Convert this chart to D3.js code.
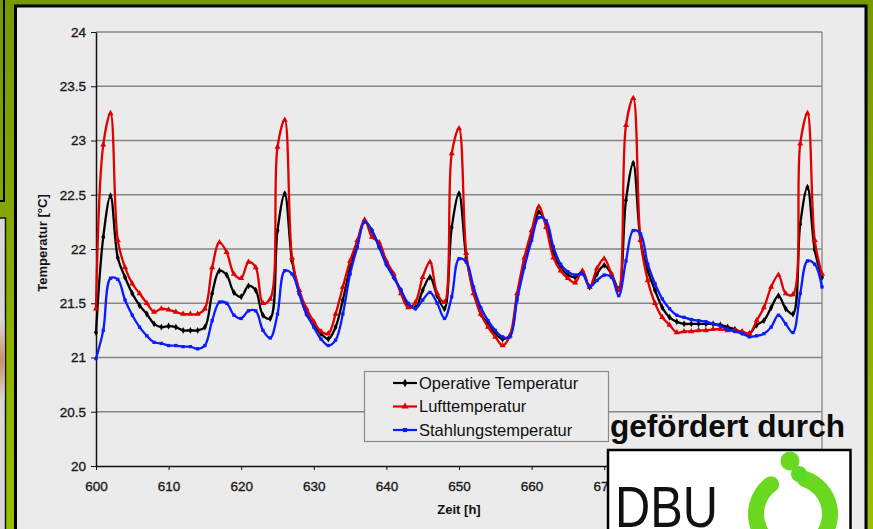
<!DOCTYPE html>
<html><head><meta charset="utf-8">
<script src="https://cdn.jsdelivr.net/npm/d3@7"></script>
<style>html,body{margin:0;padding:0;background:#7d9c00;overflow:hidden}svg{display:block;font-family:Arial,"Liberation Sans",sans-serif}</style>
</head><body><svg id="c" width="873" height="529"></svg>
<script>
// ---- data ----
const hours = d3.range(600, 701);
const xTicks = [600, 610, 620, 630, 640, 650, 660, 670, 680, 690, 700];
const yTicks = [20, 20.5, 21, 21.5, 22, 22.5, 23, 23.5, 24];
const seriesNames = ["Operative Temperatur", "Lufttemperatur", "Stahlungstemperatur"];
const operativeTemp = [
 21.23,22.11,22.49,21.92,21.74,21.59,21.48,21.40,21.31,21.28,
 21.29,21.28,21.25,21.25,21.25,21.28,21.59,21.80,21.76,21.60,
 21.56,21.66,21.62,21.39,21.36,22.17,22.51,21.89,21.59,21.40,
 21.30,21.22,21.17,21.28,21.53,21.83,22.05,22.26,22.17,22.02,
 21.86,21.74,21.62,21.48,21.46,21.62,21.74,21.57,21.45,22.20,
 22.51,21.92,21.62,21.40,21.31,21.22,21.17,21.20,21.56,21.89,
 22.11,22.34,22.23,21.96,21.83,21.76,21.74,21.79,21.65,21.77,
 21.85,21.77,21.63,22.45,22.79,22.08,21.80,21.62,21.46,21.37,
 21.33,21.31,21.31,21.31,21.31,21.31,21.30,21.28,21.26,21.23,
 21.22,21.30,21.34,21.46,21.57,21.45,21.40,22.23,22.57,21.99,
 21.74];
const luftTemp = [
 21.45,22.96,23.25,22.08,21.83,21.68,21.59,21.50,21.42,21.45,
 21.44,21.42,21.40,21.40,21.40,21.45,21.83,22.06,21.97,21.77,
 21.73,21.88,21.83,21.50,21.54,22.94,23.19,21.92,21.62,21.45,
 21.33,21.24,21.22,21.40,21.65,21.89,22.08,22.27,22.11,22.06,
 21.89,21.77,21.59,21.46,21.51,21.74,21.88,21.59,21.51,22.88,
 23.11,21.96,21.59,21.40,21.28,21.19,21.11,21.20,21.59,21.92,
 22.17,22.39,22.20,21.92,21.80,21.73,21.69,21.80,21.65,21.82,
 21.91,21.77,21.62,23.14,23.39,22.08,21.71,21.50,21.37,21.30,
 21.23,21.24,21.24,21.25,21.25,21.26,21.26,21.25,21.25,21.24,
 21.22,21.34,21.46,21.65,21.76,21.59,21.58,22.97,23.25,22.08,
 21.77];
const strahlTemp = [
 20.99,21.25,21.73,21.72,21.53,21.39,21.28,21.20,21.14,21.13,
 21.11,21.11,21.10,21.10,21.08,21.11,21.34,21.51,21.50,21.39,
 21.36,21.43,21.43,21.25,21.18,21.40,21.80,21.77,21.59,21.40,
 21.28,21.17,21.11,21.16,21.40,21.77,22.02,22.25,22.17,22.02,
 21.86,21.74,21.62,21.50,21.45,21.53,21.60,21.50,21.36,21.56,
 21.91,21.88,21.65,21.46,21.34,21.25,21.19,21.19,21.53,21.83,
 22.08,22.29,22.26,22.02,21.86,21.79,21.76,21.77,21.65,21.71,
 21.76,21.74,21.57,21.89,22.17,22.14,21.86,21.68,21.54,21.45,
 21.39,21.37,21.35,21.34,21.33,21.31,21.29,21.26,21.24,21.22,
 21.19,21.20,21.22,21.28,21.39,21.31,21.23,21.59,21.89,21.86,
 21.65];

// ---- styles ----
const colors = ["#000000", "#e00000", "#0a1cff"];
const symbols = [d3.symbolDiamond, d3.symbolTriangle, d3.symbolSquare];
const symSizes = [14, 16, 11];

const svg = d3.select("#c");
const defs = svg.append("defs");
const bg = defs.append("linearGradient").attr("id", "bg").attr("x1", 0).attr("y1", 0).attr("x2", 0).attr("y2", 1);
bg.append("stop").attr("offset", 0).attr("stop-color", "#789800");
bg.append("stop").attr("offset", 1).attr("stop-color", "#98c000");
const lg = defs.append("linearGradient").attr("id", "logo").attr("gradientUnits", "userSpaceOnUse")
  .attr("x1", 0).attr("y1", 450).attr("x2", 0).attr("y2", 529);
lg.append("stop").attr("offset", 0).attr("stop-color", "#6ad81e");
lg.append("stop").attr("offset", 0.35).attr("stop-color", "#40e02c");
lg.append("stop").attr("offset", 1).attr("stop-color", "#22f040");
const tint = defs.append("linearGradient").attr("id", "tint").attr("x1", 0).attr("y1", 0).attr("x2", 0).attr("y2", 1);
tint.append("stop").attr("offset", 0).attr("stop-color", "#d8d8d8");
tint.append("stop").attr("offset", 0.5).attr("stop-color", "#c9906a");
tint.append("stop").attr("offset", 1).attr("stop-color", "#d8d8d8");

// background
svg.append("rect").attr("width", 873).attr("height", 529).attr("fill", "url(#bg)");
// left fragments of other slides
svg.append("path").attr("d", "M4,0 V201 H0").attr("fill", "none").attr("stroke", "#000").attr("stroke-width", 2);
svg.append("rect").attr("x", -2).attr("y", 218).attr("width", 7.5).attr("height", 330)
  .attr("fill", "#d8d8d8").attr("stroke", "#111").attr("stroke-width", 1.5);
svg.append("rect").attr("x", 0).attr("y", 320).attr("width", 4.5).attr("height", 80).attr("fill", "url(#tint)");

// main panel
svg.append("rect").attr("x", 15.5).attr("y", 6).attr("width", 850.5).attr("height", 560)
  .attr("fill", "#ebebeb").attr("stroke", "#000").attr("stroke-width", 3);

// ---- chart ----
const x = d3.scaleLinear().domain([600, 700]).range([96, 822]);
const y = d3.scaleLinear().domain([20, 24]).range([466, 32]);

const g = svg.append("g");
// gridlines
g.selectAll("line.grid").data(yTicks.filter(d => d > 20)).join("line")
  .attr("x1", x(600)).attr("x2", x(700)).attr("y1", d => y(d)).attr("y2", d => y(d))
  .attr("stroke", "#858585").attr("stroke-width", 1.3);
g.append("line").attr("x1", x(700)).attr("x2", x(700)).attr("y1", y(24)).attr("y2", y(20))
  .attr("stroke", "#858585").attr("stroke-width", 1.3);

const yAxis = g.append("g").attr("transform", `translate(${x(600)},0)`)
  .call(d3.axisLeft(y).tickValues(yTicks).tickSize(5).tickSizeOuter(0).tickPadding(5).tickFormat(d => String(d)));
const xAxis = g.append("g").attr("transform", `translate(0,${y(20)})`)
  .call(d3.axisBottom(x).tickValues(xTicks).tickSize(4).tickSizeOuter(0).tickPadding(11).tickFormat(d => String(d)));
[yAxis, xAxis].forEach(a => {
  a.selectAll("path.domain").attr("stroke", "#111").attr("stroke-width", 1.5);
  a.selectAll(".tick line").attr("stroke", "#111");
  a.selectAll(".tick text").attr("font-size", 13.5).attr("fill", "#1a1a1a")
    .attr("stroke", "#1a1a1a").attr("stroke-width", 0.35)
    .attr("font-family", "Arial, 'Liberation Sans', sans-serif");
});

g.append("text").attr("transform", "translate(47,243) rotate(-90)").attr("text-anchor", "middle")
  .attr("font-size", 13).attr("font-weight", "bold").attr("fill", "#111").text("Temperatur [°C]");
g.append("text").attr("x", 459).attr("y", 514).attr("text-anchor", "middle")
  .attr("font-size", 13).attr("font-weight", "bold").attr("fill", "#111").text("Zeit [h]");

// series
const allSeries = [operativeTemp, luftTemp, strahlTemp];
const line = d3.line().x((d, i) => x(hours[i])).y(d => y(d)).curve(d3.curveCatmullRom.alpha(0.5));
allSeries.forEach((vals, si) => {
  const sg = g.append("g");
  sg.append("path").attr("d", line(vals)).attr("fill", "none").attr("stroke", colors[si]).attr("stroke-width", 2.3)
    .attr("stroke-linejoin", "round");
  sg.selectAll("path.m").data(vals).join("path").attr("class", "m")
    .attr("d", d3.symbol().type(symbols[si]).size(symSizes[si]))
    .attr("transform", (d, i) => `translate(${x(hours[i])},${y(d)})`)
    .attr("fill", colors[si]);
});

// legend
const leg = svg.append("g");
leg.append("rect").attr("x", 364.5).attr("y", 371.5).attr("width", 244).attr("height", 70)
  .attr("fill", "#ebebeb").attr("stroke", "#8a8a8a").attr("stroke-width", 1.2);
seriesNames.forEach((n, i) => {
  const ly = 383 + i * 23.5;
  leg.append("line").attr("x1", 393).attr("x2", 417).attr("y1", ly).attr("y2", ly).attr("stroke", colors[i]).attr("stroke-width", 2.2);
  leg.append("path").attr("d", d3.symbol().type(symbols[i]).size(symSizes[i] + 6)).attr("transform", `translate(405,${ly})`).attr("fill", colors[i]);
  leg.append("text").attr("x", 419).attr("y", ly).attr("dy", "0.36em").attr("font-size", 16.5).attr("fill", "#111").text(n);
});

// sponsor
svg.append("text").attr("x", 610).attr("y", 437).attr("font-size", 30.5).attr("font-weight", "bold")
  .attr("fill", "#0c0c0c").attr("textLength", 235).attr("lengthAdjust", "spacingAndGlyphs").text("gefördert durch");
svg.append("rect").attr("x", 608).attr("y", 450).attr("width", 242.5).attr("height", 100)
  .attr("fill", "#ffffff").attr("stroke", "#000").attr("stroke-width", 2.5);
svg.append("text").attr("x", 615).attr("y", 527).attr("font-size", 58).attr("fill", "#111")
  .attr("textLength", 103).attr("lengthAdjust", "spacingAndGlyphs").text("DBU");
const logo = svg.append("g").attr("transform", "translate(793,514)").attr("fill", "url(#logo)");
const arc = d3.arc().innerRadius(29).outerRadius(45).cornerRadius(8);
logo.append("path").attr("d", arc({startAngle: -3.6, endAngle: -0.42}));
logo.append("path").attr("d", arc({startAngle: 0.12, endAngle: 2.6}));
svg.append("circle").attr("cx", 790).attr("cy", 461).attr("r", 9.5).attr("fill", "#6ad81e");
svg.append("circle").attr("cx", 799).attr("cy", 474).attr("r", 8).attr("fill", "#5cda22");
</script></body></html>
